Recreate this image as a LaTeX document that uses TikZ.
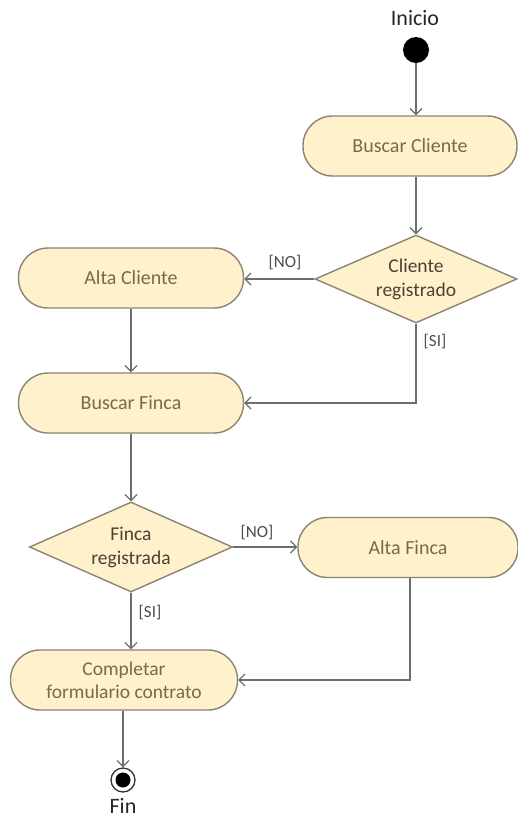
\documentclass[tikz,border=0pt]{standalone}
\usepackage{fontspec}
\setmainfont{Carlito}
\usetikzlibrary{shapes.geometric,arrows.meta}
\definecolor{actfill}{HTML}{FFF1CC}
\definecolor{actdraw}{HTML}{8C8472}
\definecolor{acttext}{HTML}{7A6A48}
\definecolor{dectext}{HTML}{4A4232}
\definecolor{flow}{HTML}{6E6E6E}
\tikzset{
  activity/.style={rectangle, rounded corners=29.5pt, draw=actdraw, fill=actfill,
    line width=1.4pt, inner sep=0pt, minimum height=60pt, text=acttext,
    font=\fontsize{20}{23}\selectfont, align=center},
  decision/.style={diamond, aspect=2.3, draw=actdraw, fill=actfill, line width=1.4pt,
    inner sep=0pt, text=dectext, font=\fontsize{19.5}{24}\selectfont, align=center},
  flowarrow/.style={draw=flow, line width=1.2pt, -{Straight Barb[length=6pt,width=12pt,line width=1.2pt]}},
  guard/.style={text=black!70, font=\fontsize{17}{19}\selectfont},
  endlabel/.style={text=black!85, font=\fontsize{22}{26}\selectfont}
}
\begin{document}
\begin{tikzpicture}[x=1pt,y=-1pt]
\useasboundingbox (0,0) rectangle (518,819);

% start and end
\node[endlabel] (lini) at (415,18) {Inicio};
\node[circle, fill=black, minimum size=26pt, inner sep=0pt] (start) at (416,50) {};
\node[circle, draw=black!80, line width=1.3pt, fill=white, minimum size=24pt, inner sep=0pt] (stop) at (123,780) {};
\node[circle, fill=black, minimum size=15pt, inner sep=0pt] (stopdot) at (stop) {};
\node[endlabel] (lfin) at (123,806) {Fin};

% activities
\node[activity, minimum width=214pt] (bcli) at (410,146) {Buscar Cliente};
\node[decision, minimum width=202pt, minimum height=88pt] (dcli) at (416,279) {Cliente\\registrado};
\node[activity, minimum width=225pt] (acli) at (131,278) {Alta Cliente};
\node[activity, minimum width=225pt] (bfin) at (131,403) {Buscar Finca};
\node[decision, minimum width=203pt, minimum height=90pt] (dfin) at (131,547) {Finca\\registrada};
\node[activity, minimum width=220pt] (afin) at (408,547.5) {Alta Finca};
\node[activity, minimum width=227pt, font=\fontsize{19.5}{23}\selectfont] (comp) at (124,680) {Completar\\formulario contrato};

% control flow
\draw[flowarrow] (start.south) -- (start.south |- bcli.north);
\draw[flowarrow] (dcli.north |- bcli.south) -- (dcli.north);
\draw[flowarrow] (dcli.west) -- (dcli.west -| acli.east);
\draw[flowarrow] (acli.south) -- (bfin.north);
\draw[flowarrow] (dcli.south) -- (dcli.south |- bfin.east) -- (bfin.east);
\draw[flowarrow] (bfin.south) -- (dfin.north);
\draw[flowarrow] (dfin.east) -- (dfin.east -| afin.west);
\draw[flowarrow] (dfin.south) -- (dfin.south |- comp.north);
\draw[flowarrow] (afin.south -| 410,0) -- (410,680) -- (comp.east);
\draw[flowarrow] (comp.south -| stop) -- (stop.north);

% guards
\node[guard] (g1) at (285,263) {[NO]};
\node[guard] (g2) at (435,342) {[SI]};
\node[guard] (g3) at (257,533) {[NO]};
\node[guard] (g4) at (150,613) {[SI]};
\end{tikzpicture}
\end{document}
